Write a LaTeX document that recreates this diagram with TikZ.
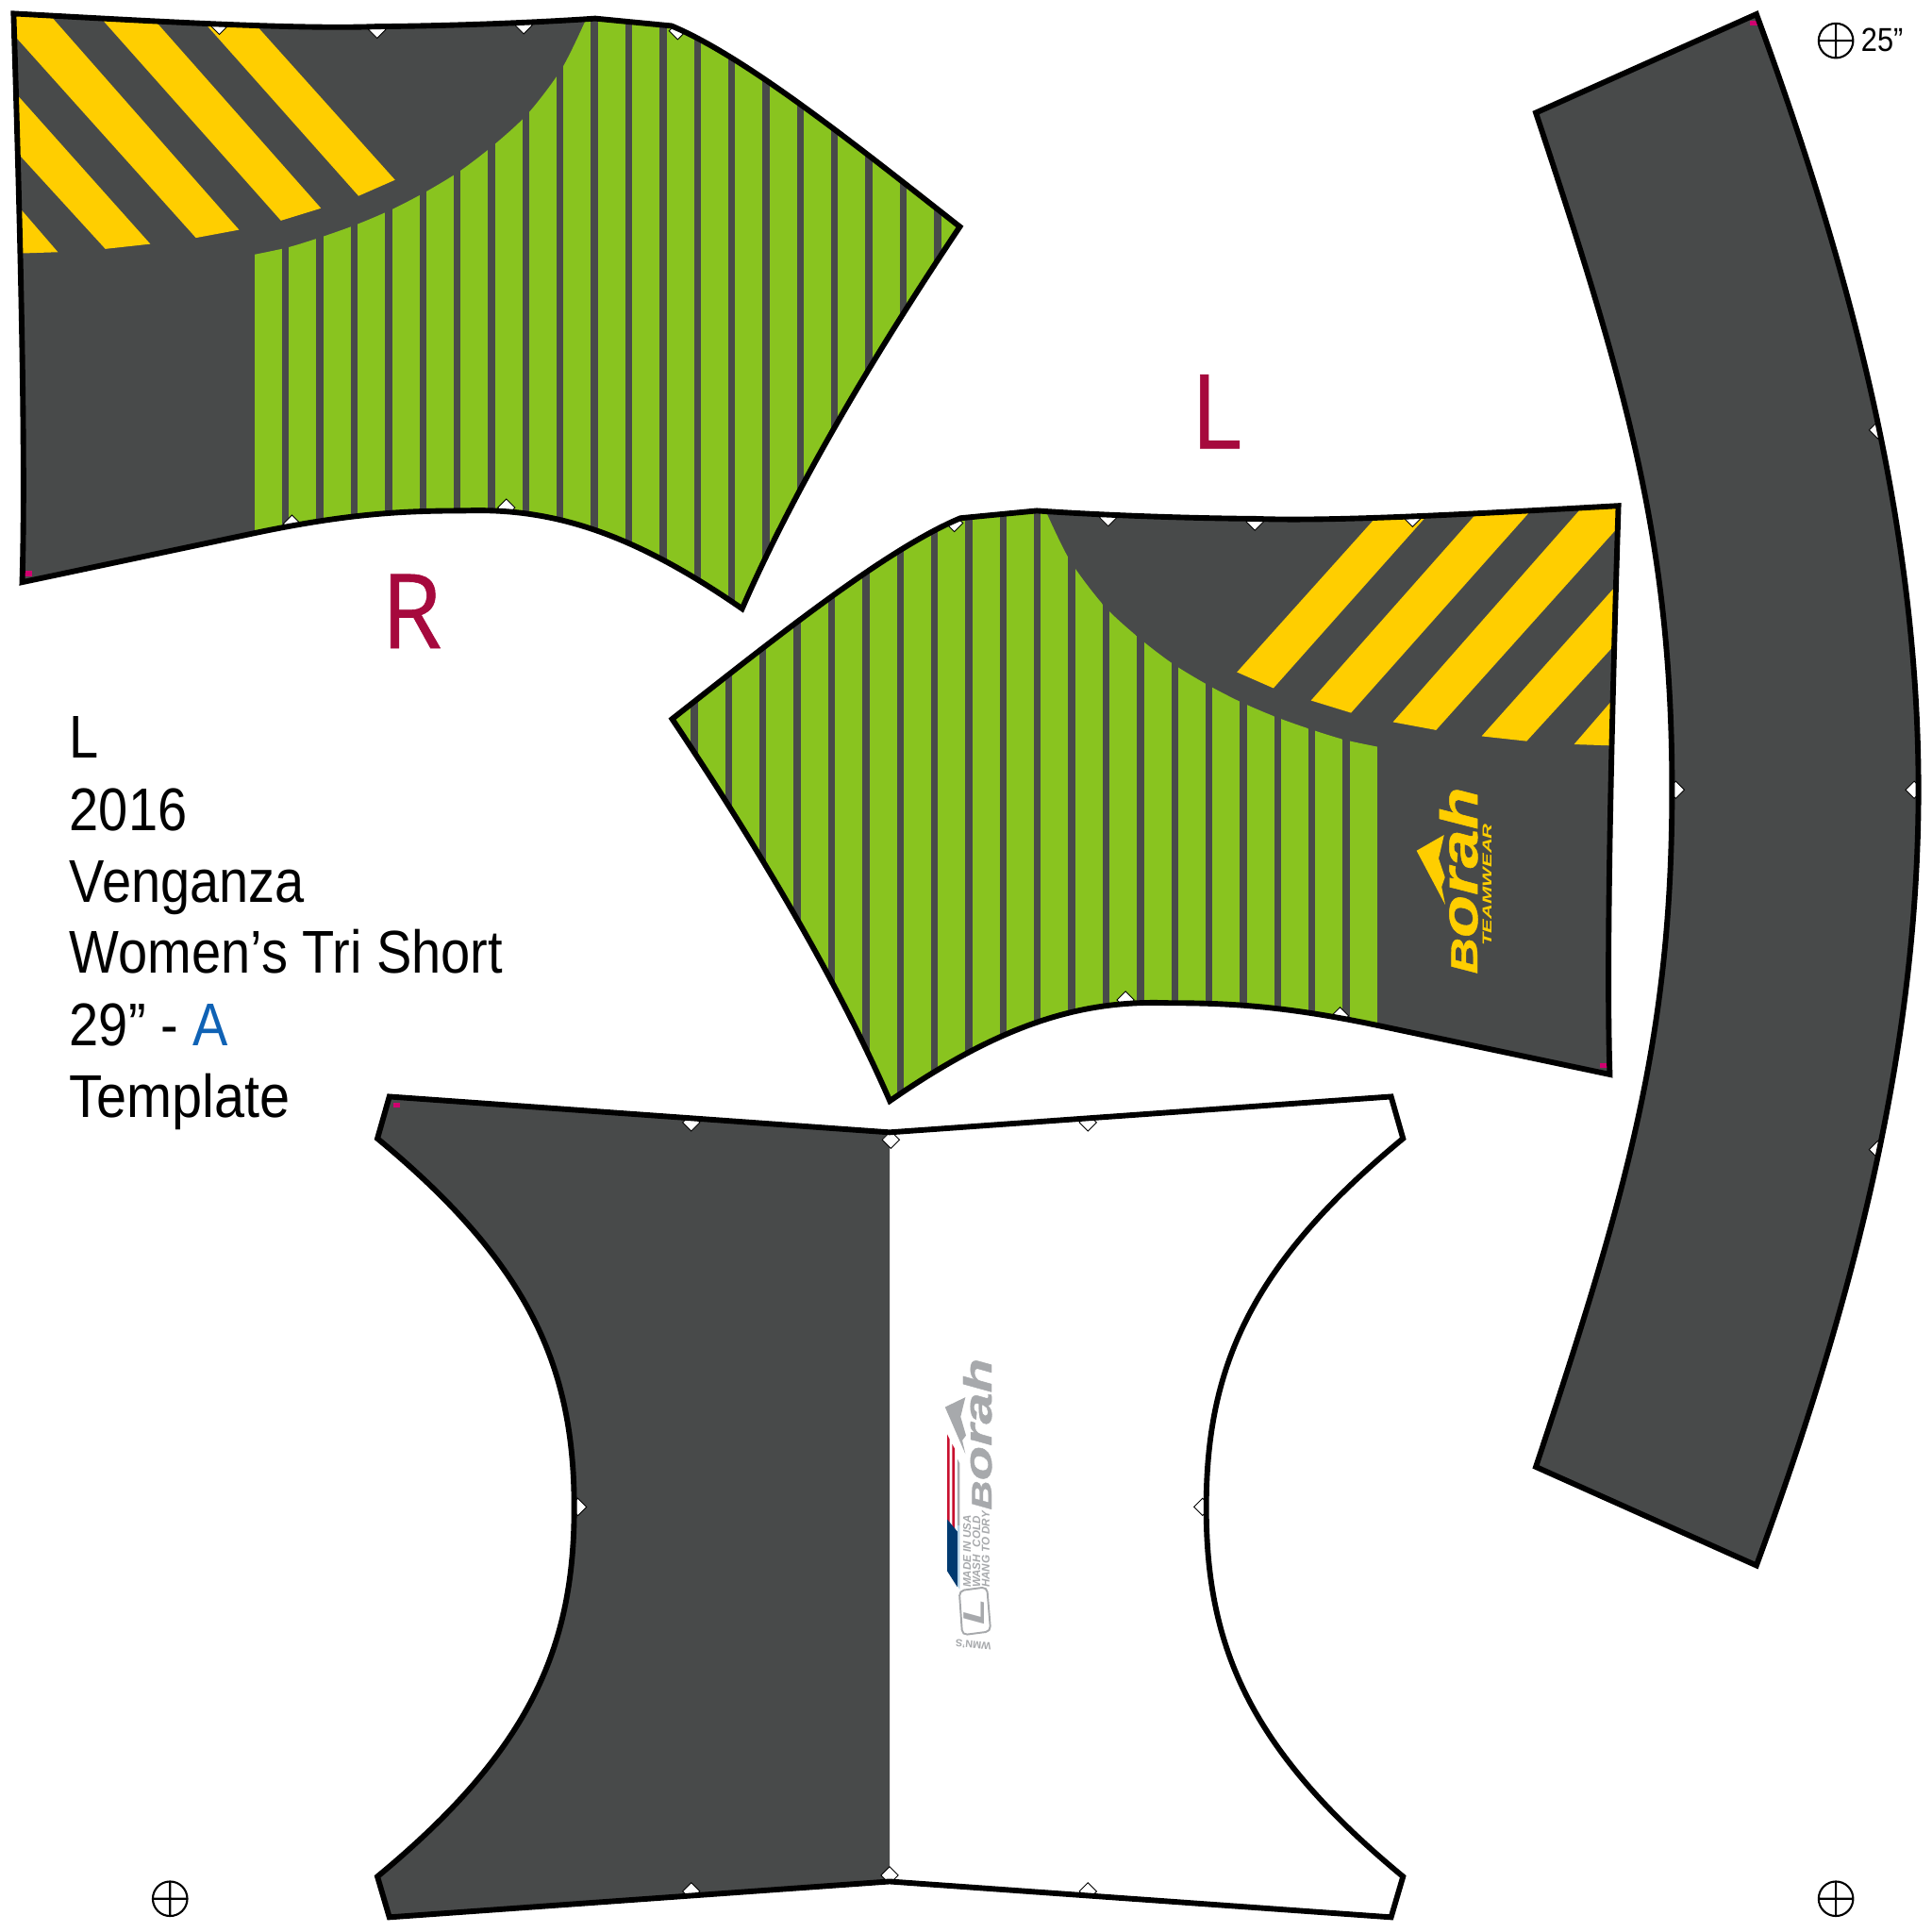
\documentclass[tikz,border=0pt]{standalone}
\usepackage{fontspec}
\usepackage{graphicx}
\setmainfont{Liberation Sans}
\newfontfamily\txtf[FakeStretch=.875]{Liberation Sans}
\newfontfamily\capf[FakeBold=.5,FakeStretch=.95]{Open Sans}
\newfontfamily\logof[FakeBold=.8]{Liberation Sans}
\definecolor{panel}{HTML}{484A4A}
\definecolor{limeg}{HTML}{89C41F}
\definecolor{goldy}{HTML}{FFCE00}
\definecolor{crim}{HTML}{A6093D}
\definecolor{azure}{HTML}{0F62B5}
\definecolor{logog}{HTML}{A7A9AC}
\definecolor{mag}{HTML}{D0006F}
\definecolor{flagred}{HTML}{C8102E}
\definecolor{flagblue}{HTML}{003A70}
\definecolor{flaglt}{HTML}{B5D3E7}
\tikzset{
  outline/.style={draw=black,line width=4.5pt*.3716,line join=miter,miter limit=10},
  notchmark/.style={fill=white,draw=black,line width=.25pt},
  reg/.style={draw=black,line width=.6pt},
  say/.style={anchor=base west,inner sep=0pt,font=\txtf\fontsize{18.2pt}{20pt}\selectfont},
  big/.style={anchor=base,inner sep=0pt,text=crim,font=\capf\fontsize{31.2pt}{34pt}\selectfont},
  rotlabel/.style={rotate=90,anchor=base west,inner sep=0pt},
}
\def\sidepath{(11,11) .. controls (120,17) and (240,24) .. (306,21.5) .. controls (370,21) and (440,18) .. (483,15) -- (545,21)
 .. controls (605,46) and (695,118) .. (779,184)
 .. controls (710,287) and (645,396) .. (602.3,494)
 .. controls (510,430) and (445,412) .. (376,414.5)
 .. controls (325,414.5) and (280,417.2) .. (205,433) -- (18,472.5)
 .. controls (21,380) and (17,200) .. (11,11) -- cycle}
\def\waistpath{(1425.5,11.5) -- (1246.5,91.5)
 .. controls (1320,313.4) and (1357,440) .. (1357,641)
 .. controls (1357,842) and (1320,968.6) .. (1246.5,1190.5)
 -- (1425.5,1270.5)
 .. controls (1503,1060) and (1557,852) .. (1557,641)
 .. controls (1557,430) and (1503,222) .. (1425.5,11.5) -- cycle}
\def\gussetleftedge{(306.3,1523) .. controls (430.5,1420.4) and (466,1337) .. (466,1223.5) .. controls (466,1110) and (430.5,1026.6) .. (306.3,924)}
\def\crotchleft{(316,890) -- (722,919) -- (722,1527) -- (316,1556) -- \gussetleftedge -- cycle}
\def\crotchall{(316,890) -- (722,919) -- (1129,890) -- (1138.7,924)
 .. controls (1014.5,1026.6) and (979,1110) .. (979,1223.5)
 .. controls (979,1337) and (1014.5,1420.4) .. (1138.7,1523)
 -- (1129,1556) -- (722,1527) -- (316,1556) -- \gussetleftedge -- cycle}
\newcommand\notchat[2]{\path[notchmark] (#1-7,#2) -- (#1,#2-7) -- (#1+7,#2) -- (#1,#2+7) -- cycle;}
\newcommand\regat[2]{\draw[reg] (#1,#2) circle (14) (#1-14,#2) -- (#1+14,#2) (#1,#2-14) -- (#1,#2+14);}
\newcommand\sidepanel{%
  \begin{scope}
    \clip \sidepath;
    \fill[panel] (0,0) rectangle (800,520);
    \begin{scope}
      \clip plot[smooth,tension=.5] coordinates {(206.8,206.5) (234,200.7) (262,192) (290,182) (318,170) (345,156) (373,139) (401,117.5) (428.6,92) (456,55.6) (475,17)} -- (475,0) -- (800,0) -- (800,520) -- (206.8,520) -- cycle;
      \foreach \k in {0,...,20} {\fill[limeg] ({206.8+27.85*\k},0) rectangle ({206.8+27.85*\k+22.2},520);}
    \end{scope}
    \fill[goldy] (30,0) -- (43,15) -- (194,186.5) -- (159,193) -- (15.4,33) -- (0,15.8) -- cycle;
    \fill[goldy] (115.4,5) -- (260.5,169) -- (228,179) -- (73.3,5) -- cycle;
    \fill[goldy] (194,5) -- (320.6,146) -- (291,159) -- (154,5) -- cycle;
    \fill[goldy] (5,67) -- (122,198) -- (85.5,202) -- (5,114) -- cycle;
    \fill[goldy] (5,156) -- (47,204.6) -- (5,206) -- cycle;
    \notchat{178}{21}\notchat{306}{24}\notchat{425}{20.5}\notchat{550}{25}
    \notchat{237}{425}\notchat{411}{412}
    \fill[mag] (20,463) rectangle (26,467.5);
  \end{scope}
  \path[outline] \sidepath;
}
\begin{document}
\begin{tikzpicture}[x=0.0130612cm,y=-0.0130612cm]
\useasboundingbox (0,0) rectangle (1568,1568);
\fill[white] (0,0) rectangle (1568,1568);

% right-hand and left-hand side panels
\sidepanel
\begin{scope}[shift={(1324.5,399.5)},xscale=-1]
  \sidepanel
\end{scope}

% waistband
\begin{scope}
  \clip \waistpath;
  \fill[panel] (1200,0) rectangle (1568,1300);
  \notchat{1524}{349}\notchat{1524}{933}\notchat{1553.5}{641}\notchat{1360}{641}
  \fill[mag] (1420,17) rectangle (1426,21);
\end{scope}
\path[outline] \waistpath;

% gusset
\begin{scope}
  \clip \crotchall;
  \fill[panel] \crotchleft;
  \notchat{561}{911}\notchat{883}{911}\notchat{723}{925}
  \notchat{469}{1223}\notchat{976}{1223}
  \notchat{561}{1535}\notchat{883}{1535}\notchat{722}{1522}
  \fill[mag] (319,895) rectangle (325,899);
\end{scope}
\path[outline] \crotchall;

% yellow logo
\fill[goldy] (1149.7,690.4) -- (1172,677.6) -- (1167.6,696.7) -- (1172.7,712) -- (1170,719.7) -- (1173,734.4) -- cycle;
\node[rotlabel,text=goldy] (logoA) at (1199,791) {\scalebox{1.33}[1]{\logof\bfseries\itshape\fontsize{11.4pt}{12pt}\selectfont B\fontsize{15.75pt}{16pt}\selectfont orah}};
\node[rotlabel,text=goldy] (logoAsub) at (1210.5,768) {\scalebox{1.6}[1]{\bfseries\itshape\fontsize{3.9pt}{4pt}\selectfont TEAMWEAR}};

% gray logo
\fill[logog] (767,1142) -- (783.5,1134) -- (779.6,1149.8) -- (784,1165) -- (781,1169) -- (783.5,1180) -- cycle;
\node[rotlabel,text=logog] (logoB) at (804.7,1226) {\scalebox{1.44}[1]{\logof\bfseries\itshape\fontsize{8.55pt}{9pt}\selectfont B\fontsize{11.8pt}{12pt}\selectfont orah}};
\fill[flagred] (768.7,1164) -- (770.7,1168) -- (770.7,1237) -- (768.7,1233) -- cycle;
\fill[flagred] (772.8,1172) -- (775,1176) -- (775,1243) -- (772.8,1240) -- cycle;
\fill[logog] (777,1184) -- (779,1188) -- (779,1238) -- (777,1238) -- cycle;
\fill[flaglt] (777,1238) -- (779,1238) -- (779,1290) -- (777,1287) -- cycle;
\fill[flagblue] (768.7,1233) -- (777,1243) -- (777,1288) -- (768.7,1275) -- cycle;
\node[rotlabel,text=logog] (care1) at (788,1289) {\bfseries\itshape\fontsize{3.3pt}{3.5pt}\selectfont MADE IN USA};
\node[rotlabel,text=logog] (care2) at (795.5,1289) {\bfseries\itshape\fontsize{3.3pt}{3.5pt}\selectfont WASH\hspace{.7em}COLD};
\node[rotlabel,text=logog] (care3) at (803,1289) {\bfseries\itshape\fontsize{3.3pt}{3.5pt}\selectfont HANG TO DRY};
\draw[logog,line width=.55pt,rounded corners=1.5pt] (778.5,1291) -- (801,1288) -- (804,1324) -- (781,1327) -- cycle;
\node[rotlabel,text=logog] (sizeL) at (799,1319) {\scalebox{1.4}[1]{\bfseries\itshape\fontsize{9pt}{9pt}\selectfont L}};
\node[rotate=175,inner sep=0pt,text=logog] (wmns) at (790,1335) {\bfseries\fontsize{3.1pt}{4pt}\selectfont WMN’S};

% captions
\node[big] (capL) at (987,364) {L};
\node[big] (capR) at (334,526) {R};
\node[say] (t1) at (56,615) {L};
\node[say] (t2) at (56,674) {2016};
\node[say] (t3) at (56,732) {Venganza};
\node[say] (t4) at (56,790) {Women’s Tri Short};
\node[say] (t5) at (56,849) {29” - \textcolor{azure}{A}};
\node[say] (t6) at (56,907) {\scalebox{1.03}[1]{Template}};
\node[anchor=base west,inner sep=0pt,font=\txtf\fontsize{10pt}{11pt}\selectfont] (size) at (1510,42) {25”};

% registration marks
\regat{1490}{33}
\regat{138}{1541}
\regat{1490}{1541}
\end{tikzpicture}
\end{document}
